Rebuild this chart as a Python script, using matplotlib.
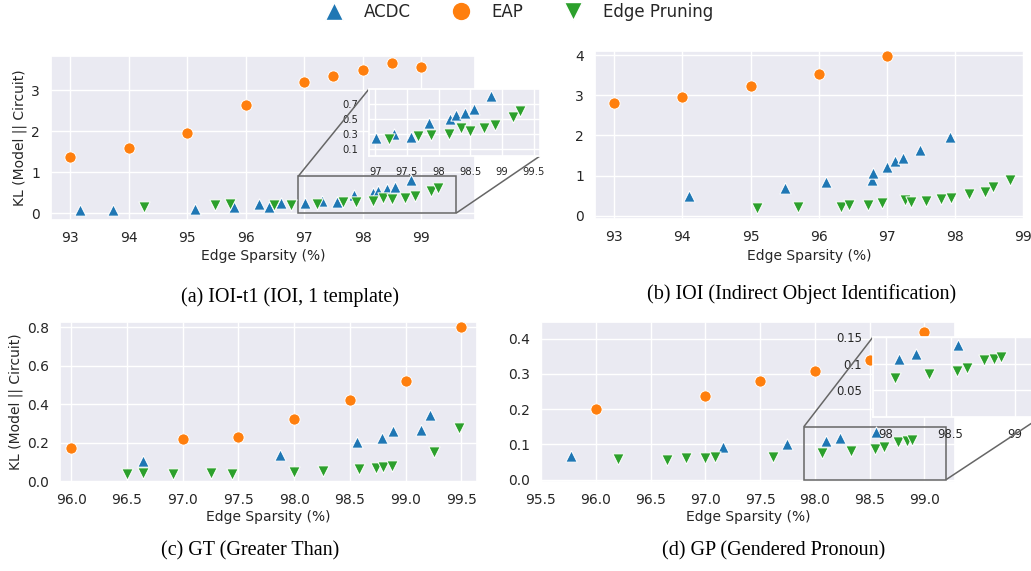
import matplotlib

matplotlib.use("Agg")
import matplotlib.pyplot as plt
import seaborn as sns
from matplotlib.lines import Line2D
from mpl_toolkits.axes_grid1.inset_locator import mark_inset

# ---- data ---------------------------------------------------------------
# (a) IOI-t1
ioit1_acdc_x = [93.17, 93.73, 95.13, 95.80, 96.23, 96.40, 96.61, 97.01, 97.30,
                97.57, 97.85, 98.18, 98.27, 98.42, 98.55, 98.82]
ioit1_acdc_y = [0.08, 0.08, 0.10, 0.16, 0.22, 0.16, 0.24, 0.24, 0.30,
                0.26, 0.45, 0.50, 0.55, 0.58, 0.63, 0.81]
ioit1_eap_x = [93.0, 94.0, 95.0, 96.0, 97.0, 97.5, 98.0, 98.5, 99.0]
ioit1_eap_y = [1.36, 1.59, 1.95, 2.64, 3.21, 3.35, 3.50, 3.66, 3.58]
ioit1_ep_x = [94.27, 95.48, 95.74, 96.49, 96.78, 97.22, 97.67, 97.88, 98.17,
              98.35, 98.50, 98.72, 98.89, 99.17, 99.29]
ioit1_ep_y = [0.15, 0.19, 0.22, 0.20, 0.20, 0.23, 0.27, 0.28, 0.29,
              0.37, 0.34, 0.37, 0.42, 0.53, 0.61]

# (b) IOI
ioi_acdc_x = [94.10, 95.50, 96.10, 96.78, 96.80, 97.00, 97.12, 97.23, 97.49, 97.93]
ioi_acdc_y = [0.49, 0.69, 0.85, 0.90, 1.07, 1.22, 1.37, 1.44, 1.63, 1.97]
ioi_eap_x = [93.0, 94.0, 95.0, 96.0, 97.0]
ioi_eap_y = [2.80, 2.95, 3.24, 3.53, 3.98]
ioi_ep_x = [95.09, 95.70, 96.33, 96.45, 96.72, 96.93, 97.27, 97.35, 97.58,
            97.80, 97.94, 98.20, 98.44, 98.55, 98.80]
ioi_ep_y = [0.20, 0.22, 0.22, 0.27, 0.28, 0.31, 0.39, 0.35, 0.37,
            0.41, 0.45, 0.53, 0.60, 0.72, 0.89]

# (c) GT
gt_acdc_x = [96.64, 97.87, 98.56, 98.79, 98.89, 99.14, 99.22]
gt_acdc_y = [0.104, 0.138, 0.202, 0.225, 0.260, 0.268, 0.345]
gt_eap_x = [96.0, 97.0, 97.5, 98.0, 98.5, 99.0, 99.5]
gt_eap_y = [0.173, 0.220, 0.230, 0.325, 0.423, 0.520, 0.800]
gt_ep_x = [96.50, 96.64, 96.91, 97.25, 97.44, 98.00, 98.26, 98.58, 98.73,
           98.80, 98.88, 99.25, 99.48]
gt_ep_y = [0.040, 0.043, 0.040, 0.043, 0.040, 0.047, 0.052, 0.064, 0.067,
           0.076, 0.081, 0.155, 0.276]

# (d) GP
gp_acdc_x = [95.77, 97.16, 97.75, 98.10, 98.23, 98.56]
gp_acdc_y = [0.066, 0.093, 0.102, 0.109, 0.118, 0.135]
gp_eap_x = [96.0, 97.0, 97.5, 98.0, 98.5, 99.0]
gp_eap_y = [0.2015, 0.2365, 0.281, 0.309, 0.340, 0.419]
gp_ep_x = [96.20, 96.65, 96.82, 97.00, 97.09, 97.62, 98.07, 98.33, 98.55,
           98.63, 98.76, 98.84, 98.89]
gp_ep_y = [0.058, 0.055, 0.060, 0.060, 0.064, 0.064, 0.074, 0.080, 0.087,
           0.091, 0.107, 0.109, 0.112]

METHODS = ["ACDC", "EAP", "Edge Pruning"]
COLORS = {"ACDC": "#1f77b4", "EAP": "#ff7f0e", "Edge Pruning": "#2ca02c"}
MARKERS = {"ACDC": "^", "EAP": "o", "Edge Pruning": "v"}

W, H = 1031, 571


def fig_rect(left, top, right, bottom):
    """Pixel box -> figure fraction rect."""
    return [left / W, 1 - bottom / H, (right - left) / W, (bottom - top) / H]


def draw_points(ax, series, size=66):
    for name, (xs, ys) in zip(METHODS, series):
        ax.scatter(xs, ys, s=size, marker=MARKERS[name], color=COLORS[name],
                   edgecolor="white", linewidth=0.7, zorder=3)


sns.set_theme(style="darkgrid")
plt.rcParams.update({
    "xtick.major.size": 0,
    "ytick.major.size": 0,
    "xtick.major.pad": 8.0,
    "ytick.major.pad": 8.0,
    "xtick.labelsize": 10,
    "ytick.labelsize": 10,
    "axes.labelsize": 10,
})

fig = plt.figure(figsize=(W / 100, H / 100), dpi=100)

panels = [
    dict(rect=(51, 56, 475, 220), xlim=(92.675, 99.92), ylim=(-0.17, 3.84),
         xticks=[93, 94, 95, 96, 97, 98, 99], yticks=[0, 1, 2, 3],
         series=[(ioit1_acdc_x, ioit1_acdc_y), (ioit1_eap_x, ioit1_eap_y),
                 (ioit1_ep_x, ioit1_ep_y)],
         ylabel=True, ylab_x=-0.057, xlab_y=-0.177),
    dict(rect=(595, 51, 1024, 219), xlim=(92.72, 99.01), ylim=(-0.08, 4.1),
         xticks=[93, 94, 95, 96, 97, 98, 99], yticks=[0, 1, 2, 3, 4],
         series=[(ioi_acdc_x, ioi_acdc_y), (ioi_eap_x, ioi_eap_y),
                 (ioi_ep_x, ioi_ep_y)],
         ylabel=False, ylab_x=0, xlab_y=-0.179),
    dict(rect=(60, 322, 477, 482), xlim=(95.9, 99.64), ylim=(-0.003, 0.826),
         xticks=[96.0, 96.5, 97.0, 97.5, 98.0, 98.5, 99.0, 99.5],
         yticks=[0.0, 0.2, 0.4, 0.6, 0.8],
         series=[(gt_acdc_x, gt_acdc_y), (gt_eap_x, gt_eap_y),
                 (gt_ep_x, gt_ep_y)],
         ylabel=True, ylab_x=-0.089, xlab_y=-0.175),
    dict(rect=(541, 322, 955, 482), xlim=(95.5, 99.28), ylim=(-0.007, 0.447),
         xticks=[95.5, 96.0, 96.5, 97.0, 97.5, 98.0, 98.5, 99.0],
         yticks=[0.0, 0.1, 0.2, 0.3, 0.4],
         series=[(gp_acdc_x, gp_acdc_y), (gp_eap_x, gp_eap_y),
                 (gp_ep_x, gp_ep_y)],
         ylabel=False, ylab_x=0, xlab_y=-0.175),
]

axes = []
for p in panels:
    ax = fig.add_axes(fig_rect(*p["rect"]))
    draw_points(ax, p["series"])
    ax.set_xlim(*p["xlim"])
    ax.set_ylim(*p["ylim"])
    ax.set_xticks(p["xticks"])
    ax.set_yticks(p["yticks"])
    ax.set_xlabel("Edge Sparsity (%)")
    ax.xaxis.set_label_coords(0.5, p["xlab_y"])
    if p["ylabel"]:
        ax.set_ylabel("KL (Model || Circuit)")
        ax.yaxis.set_label_coords(p["ylab_x"], 0.5)
    axes.append(ax)

# zoomed insets
insets = [
    dict(parent=0, rect=(369, 89, 540, 156), xlim=(96.9, 99.6), ylim=(0, 0.9),
         xticks=[97, 97.5, 98, 98.5, 99, 99.5],
         xlabels=["97", "97.5", "98", "98.5", "99", "99.5"],
         yticks=[0.1, 0.3, 0.5, 0.7], ylabels=["0.1", "0.3", "0.5", "0.7"],
         fs=7.2),
    dict(parent=3, rect=(873, 337, 1041, 417), xlim=(97.9, 99.2), ylim=(0, 0.15),
         xticks=[98, 98.5, 99], xlabels=["98", "98.5", "99"],
         yticks=[0.05, 0.1, 0.15], ylabels=["0.05", "0.1", "0.15"],
         fs=8.4),
]
for ins in insets:
    parent = axes[ins["parent"]]
    axin = fig.add_axes(fig_rect(*ins["rect"]))
    draw_points(axin, panels[ins["parent"]]["series"])
    axin.set_xlim(*ins["xlim"])
    axin.set_ylim(*ins["ylim"])
    axin.set_xticks(ins["xticks"], ins["xlabels"])
    axin.set_yticks(ins["yticks"], ins["ylabels"])
    axin.tick_params(labelsize=ins["fs"], pad=8)
    mark_inset(parent, axin, loc1=2, loc2=4, fc="none", ec="0.4", lw=1.1)

# shared legend
handles = [Line2D([], [], ls="", marker=MARKERS[m], color=COLORS[m],
                  markeredgecolor="white", markersize=13.5) for m in METHODS]
fig.legend(handles, METHODS, loc="center", bbox_to_anchor=(0.5, 1 - 12 / H),
           ncol=3, frameon=False, fontsize=12)

# subfigure captions
captions = [
    ("(a) IOI-t1 (IOI, 1 template)", 290, 297),
    ("(b) IOI (Indirect Object Identification)", 802, 294),
    ("(c) GT (Greater Than)", 250, 551),
    ("(d) GP (Gendered Pronoun)", 774, 551),
]
for text, cx, cy in captions:
    fig.text(cx / W, 1 - cy / H, text, ha="center", va="center",
             family="Liberation Serif", fontsize=14.5, color="black")

fig.savefig("out.png", dpi=100)
